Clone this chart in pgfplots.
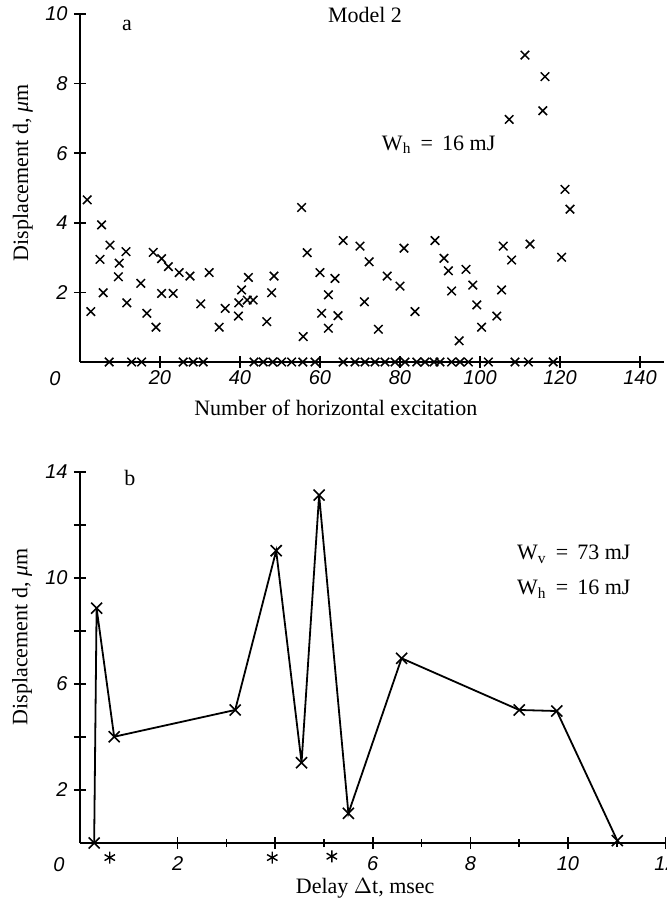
\documentclass[border=0pt]{standalone}
\usepackage{fontspec}
\setmainfont{Liberation Serif}
\newfontfamily\tickfont{Liberation Sans}
\usepackage{pgfplots}
\pgfplotsset{compat=1.18}
\begin{document}
\begin{tikzpicture}
% ---------- panel a ----------
\begin{axis}[scale only axis, axis x line=bottom, axis y line=left,
  axis line style={line width=1pt,-}, clip=false,
  tick align=center, major tick length=6pt, minor tick length=4pt,
  xtick style={black, line width=0.8pt}, ytick style={black, line width=0.8pt},
  tick label style={font=\tickfont\itshape\fontsize{10}{12}\selectfont},
  /pgf/number format/assume math mode=true,
  label style={font=\fontsize{11}{13}\selectfont},
  at={(40pt,272pt)}, anchor=south west,
  width=292pt, height=174pt, xmin=0, xmax=146, ymin=0, ymax=10,
  xtick={20,40,...,140}, ytick={2,4,...,10},
  xticklabel style={anchor=north, inner sep=0pt, yshift=-1pt},
  yticklabel style={anchor=east, inner sep=0pt, xshift=-3pt},
  xlabel={Number of horizontal excitation},
  ylabel={Displacement d, {\itshape μ}m},
  xlabel style={at={(axis description cs:0.438,-0.132)}, anchor=center},
  ylabel style={at={(axis description cs:-0.098,0.543)}, anchor=center, rotate=0},
]
\addplot[only marks, mark=x, mark size=3pt, mark options={line width=0.75pt}] coordinates {
(1.8,4.66) (2.7,1.45) (5.4,3.94) (5.0,2.95) (5.8,1.99) (7.5,3.36) (9.8,2.84) (9.6,2.45)
(11.5,3.17) (11.7,1.70) (15.2,2.26) (16.7,1.40) (18.3,3.15) (19.0,1.0) (20.4,2.97) (20.4,1.97)
(22.1,2.74) (23.3,1.97) (24.8,2.57) (27.5,2.47) (30.2,1.67) (32.3,2.57) (34.8,1.0) (36.3,1.54)
(39.6,1.32) (39.7,1.70) (40.4,2.07) (41.8,1.78) (42.1,2.43) (43.3,1.78) (46.7,1.16) (47.9,1.99)
(48.5,2.47) (55.4,4.44) (55.8,0.73) (56.8,3.14) (60.0,2.57) (60.4,1.40) (62.1,1.93) (62.1,0.97)
(63.75,2.40) (64.5,1.33) (65.8,3.49) (70.0,3.33) (71.1,1.73) (72.3,2.88) (74.6,0.94) (76.8,2.47)
(80.0,2.18) (81.0,3.27) (83.75,1.45) (88.75,3.49) (91.0,2.98) (92.1,2.62) (92.9,2.04) (94.8,0.61)
(96.5,2.66) (98.2,2.21) (99.2,1.64) (100.4,1.0) (104.2,1.32) (105.4,2.07) (105.8,3.33) (107.9,2.93)
(107.3,6.97) (111.25,8.82) (112.5,3.39) (115.7,7.22) (116.25,8.20) (120.4,3.01) (121.25,4.96) (122.5,4.39)
(7.3,0) (12.9,0) (15.4,0) (25.8,0) (28.3,0) (30.8,0) (43.5,0) (45.8,0) (48.2,0) (50.4,0)
(52.9,0) (55.7,0) (58.75,0) (65.8,0) (68.75,0) (71.25,0) (73.75,0) (76.25,0) (78.75,0) (81.25,0)
(84.2,0) (86.25,0) (88.5,0) (90.0,0) (92.9,0) (95.0,0) (97.1,0) (102.1,0) (108.75,0) (112.1,0) (118.3,0)
};
\node[font=\tickfont\itshape\fontsize{10}{12}\selectfont, anchor=north, inner sep=0pt] at (axis cs:-6.25,-0.26) {0};
\node[font=\fontsize{11}{13}\selectfont] at (axis cs:11.75,9.68) {a};
\node[font=\fontsize{11}{13}\selectfont] at (axis cs:71.25,9.97) {Model 2};
\node[font=\fontsize{11}{13}\selectfont, anchor=base west, inner sep=0pt] at (axis cs:75.4,6.09) {W\textsubscript{h} \,=\, 16 mJ};
\end{axis}
% ---------- panel b ----------
\begin{axis}[scale only axis, axis x line=bottom, axis y line=left,
  axis line style={line width=1pt,-}, clip=false,
  tick align=center, major tick length=6pt, minor tick length=4pt,
  xtick style={black, line width=0.8pt}, ytick style={black, line width=0.8pt},
  tick label style={font=\tickfont\itshape\fontsize{10}{12}\selectfont},
  /pgf/number format/assume math mode=true,
  label style={font=\fontsize{11}{13}\selectfont},
  at={(40pt,31.5pt)}, anchor=south west,
  width=292.8pt, height=185.5pt, xmin=0, xmax=12, ymin=0, ymax=14,
  xtick={2,4,...,12}, xticklabels={2,,6,8,10,12}, minor x tick num=1,
  ytick={2,4,...,14}, yticklabels={2,,6,,10,,14},
  xticklabel style={anchor=north, inner sep=0pt, yshift=-3.5pt},
  yticklabel style={anchor=east, inner sep=0pt, xshift=-3pt},
  xlabel={Delay $\Delta$t, msec},
  ylabel={Displacement d, {\itshape μ}m},
  xlabel style={at={(axis description cs:0.487,-0.121)}, anchor=center},
  ylabel style={at={(axis description cs:-0.099,0.555)}, anchor=center, rotate=0},
]
\addplot[line width=0.9pt, mark=x, mark size=3.9pt, mark options={line width=0.8pt}] coordinates {
(0.29,0) (0.34,8.86) (0.70,4.01) (3.18,5.02) (4.02,11.03) (4.54,3.03) (4.90,13.13)
(5.50,1.12) (6.59,6.97) (9.00,5.02) (9.77,4.98) (11.01,0.09)
};
\addplot[only marks, mark=asterisk, mark size=3pt, mark options={line width=0.7pt}] coordinates {
(0.61,-0.55) (3.94,-0.55) (5.16,-0.5)
};
\node[font=\tickfont\itshape\fontsize{10}{12}\selectfont, anchor=north, inner sep=0pt] at (axis cs:-0.43,-0.55) {0};
\node[font=\fontsize{11}{13}\selectfont] at (axis cs:1.02,13.77) {b};
\node[font=\fontsize{11}{13}\selectfont, anchor=base west, inner sep=0pt] at (axis cs:8.95,10.68) {W\textsubscript{v} \,=\, 73 mJ};
\node[font=\fontsize{11}{13}\selectfont, anchor=base west, inner sep=0pt] at (axis cs:8.95,9.36) {W\textsubscript{h} \,=\, 16 mJ};
\end{axis}
\pgfresetboundingbox
\useasboundingbox (0,0) rectangle (333.5pt,453pt);
\end{tikzpicture}
\end{document}
